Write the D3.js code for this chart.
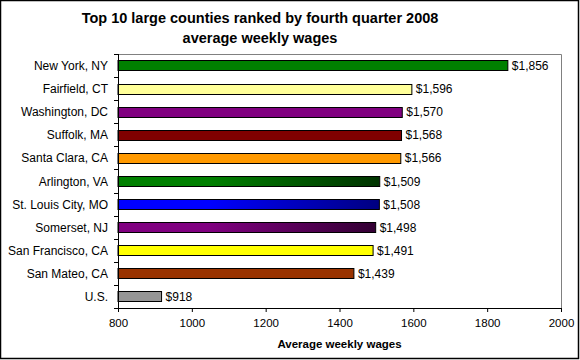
<!DOCTYPE html>
<html><head><meta charset="utf-8">
<script src="https://cdn.jsdelivr.net/npm/d3@7"></script>
<style>
body{margin:0;background:#fff;}
svg text{font-family:Arial,"Liberation Sans",sans-serif;}
</style></head>
<body>
<svg id="c" width="580" height="360"></svg>
<script>
const categories = ["New York, NY","Fairfield, CT","Washington, DC","Suffolk, MA","Santa Clara, CA","Arlington, VA","St. Louis City, MO","Somerset, NJ","San Francisco, CA","San Mateo, CA","U.S."];
const wages = [1856,1596,1570,1568,1566,1509,1508,1498,1491,1439,918];
const xTicks = [800,1000,1200,1400,1600,1800,2000];
const colors = [
  ["#008000","#008000"],["#FFFF99","#FFFF99"],["#800080","#800080"],["#800000","#800000"],
  ["#FF9900","#FF9900"],["#008000","#003300"],["#0000FF","#000080"],["#800080","#330033"],
  ["#FFFF00","#FFFF00"],["#993300","#993300"],["#969696","#969696"]
];

const svg = d3.select("#c");
const m = {l:118, r:561, t:54, b:308};
const x = d3.scaleLinear().domain([800,2000]).range([m.l, m.r]);
const y = d3.scaleBand().domain(categories).range([m.t, m.b]).paddingInner(0.56).paddingOuter(0.28);

// outer border
svg.append("rect").attr("x",0.5).attr("y",0.5).attr("width",578).attr("height",358)
  .attr("fill","#fff").attr("stroke","#000").attr("stroke-width",1.5);

// gradients
const defs = svg.append("defs");
colors.forEach((c,i)=>{
  const g = defs.append("linearGradient").attr("id","g"+i).attr("x1","0%").attr("x2","100%").attr("y1","0%").attr("y2","0%");
  g.append("stop").attr("offset","0%").attr("stop-color",c[0]);
  g.append("stop").attr("offset","35%").attr("stop-color",c[0]);
  g.append("stop").attr("offset","100%").attr("stop-color",c[1]);
});

// plot area border (gray top/right)
svg.append("path").attr("d",`M${m.l},${m.t+0.5}H${m.r+0.5}V${m.b}`)
  .attr("fill","none").attr("stroke","#808080").attr("stroke-width",1);

// title
const title = svg.append("text").attr("x",260).attr("text-anchor","middle")
  .attr("font-size","14.5px").attr("font-weight","bold").attr("fill","#000");
title.append("tspan").attr("x",260).attr("y",23).text("Top 10 large counties ranked by fourth quarter 2008");
title.append("tspan").attr("x",260).attr("y",43).text("average weekly wages");

// bars
svg.selectAll("rect.bar").data(categories).enter().append("rect")
  .attr("class","bar")
  .attr("x", x(800))
  .attr("y", d=>Math.round(y(d))+0.5)
  .attr("width", (d,i)=>x(wages[i])-x(800))
  .attr("height", Math.round(y.bandwidth()))
  .attr("fill",(d,i)=>`url(#g${i})`)
  .attr("stroke","#000").attr("stroke-width",1);

// value labels
svg.selectAll("text.val").data(categories).enter().append("text")
  .attr("class","val")
  .attr("x",(d,i)=>x(wages[i])+4)
  .attr("y",d=>y(d)+y.bandwidth()/2+4.5)
  .attr("font-size","12px").attr("fill","#000")
  .text((d,i)=>"$"+d3.format(",")(wages[i]));

// x axis
const xAxis = d3.axisBottom(x).tickValues(xTicks).tickSize(4).tickSizeOuter(0).tickFormat(d3.format("d"));
const gx = svg.append("g").attr("transform",`translate(0,${m.b})`).call(xAxis);
gx.select(".domain").attr("stroke","#000");
gx.selectAll(".tick line").attr("stroke","#000");
gx.selectAll(".tick text").attr("font-size","11.5px").attr("font-family","Arial,'Liberation Sans',sans-serif").attr("fill","#000").attr("dy","1.05em");

// y axis with ticks between categories
const gy = svg.append("g");
gy.append("line").attr("x1",m.l+0.5).attr("x2",m.l+0.5).attr("y1",m.t).attr("y2",m.b+4).attr("stroke","#000");
const bounds = d3.range(categories.length+1).map(i=>m.t + i*(m.b-m.t)/categories.length);
gy.selectAll("line.tk").data(bounds).enter().append("line")
  .attr("x1",m.l-4).attr("x2",m.l).attr("y1",d=>Math.round(d)+0.5).attr("y2",d=>Math.round(d)+0.5).attr("stroke","#000");
gy.selectAll("text.cat").data(categories).enter().append("text")
  .attr("x",m.l-10).attr("y",d=>y(d)+y.bandwidth()/2+4.5)
  .attr("text-anchor","end").attr("font-size","12px").attr("fill","#000").text(d=>d);

// x axis title
svg.append("text").attr("x",(m.l+m.r)/2).attr("y",348).attr("text-anchor","middle")
  .attr("font-size","11.5px").attr("font-weight","bold").attr("fill","#000").text("Average weekly wages");
</script>
</body></html>
